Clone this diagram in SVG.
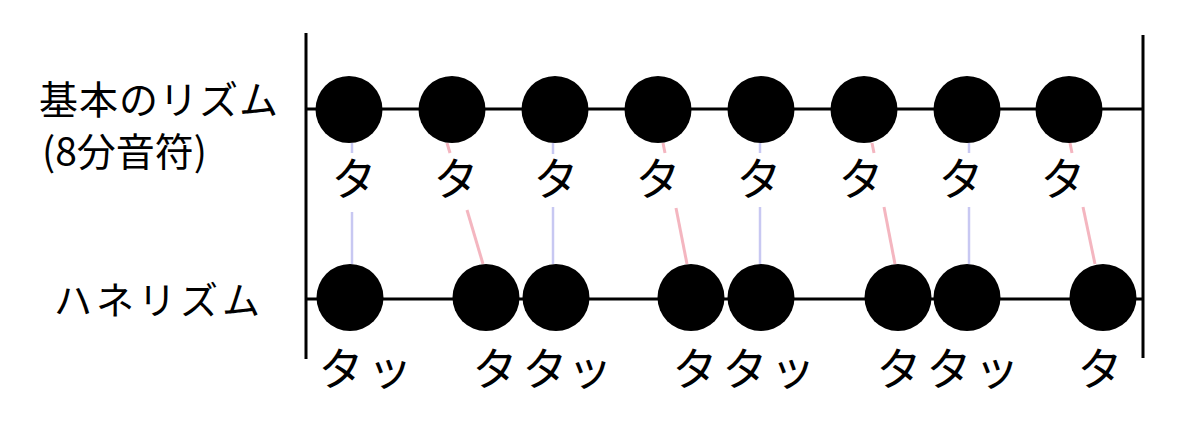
<svg xmlns="http://www.w3.org/2000/svg" width="1200" height="423" viewBox="0 0 1200 423">
<style>
.bar{stroke:#000;stroke-width:3;fill:none}
.staff{stroke:#000;stroke-width:3}
.note{fill:#000}
.blue{stroke:#c8c8f2;stroke-width:2.5}
.pink{stroke:#f4b6c0;stroke-width:3}
.lbl{font-family:"Noto Sans CJK JP","Noto Sans",sans-serif;font-size:39px;fill:#000}
.syl{font-family:"Noto Sans CJK JP","Noto Sans",sans-serif;font-size:45px;fill:#000;text-anchor:middle}
</style>
<rect width="1200" height="423" fill="#fff"/>
<g id="connectors">
<line class="blue" x1="352" y1="143" x2="352" y2="153"/>
<line class="blue" x1="352" y1="212" x2="352" y2="264"/>
<line class="blue" x1="553" y1="143" x2="553" y2="154"/>
<line class="blue" x1="553" y1="207" x2="553" y2="264"/>
<line class="blue" x1="760" y1="143" x2="760" y2="153"/>
<line class="blue" x1="760" y1="207" x2="760" y2="264"/>
<line class="blue" x1="969" y1="143" x2="969" y2="153"/>
<line class="blue" x1="969" y1="207" x2="969" y2="264"/>
<line class="pink" x1="447" y1="143" x2="450" y2="153"/>
<line class="pink" x1="467" y1="210" x2="483" y2="264"/>
<line class="pink" x1="663" y1="143" x2="665" y2="153"/>
<line class="pink" x1="676" y1="208" x2="687" y2="264"/>
<line class="pink" x1="872" y1="143" x2="874" y2="153"/>
<line class="pink" x1="884" y1="207" x2="895" y2="264"/>
<line class="pink" x1="1070" y1="143" x2="1072" y2="153"/>
<line class="pink" x1="1083" y1="207" x2="1095" y2="264"/>
</g>
<g id="staff">
<line class="bar" x1="306" y1="33" x2="306" y2="359"/>
<line class="bar" x1="1143" y1="35" x2="1143" y2="358"/>
<line class="staff" x1="306" y1="109" x2="1143" y2="109"/>
<line class="staff" x1="306" y1="299" x2="1143" y2="299"/>
</g>
<g id="labels">
<text class="lbl" x="39" y="114" style="letter-spacing:1px">基本のリズム</text>
<text class="lbl" x="42" y="166">(8分音符)</text>
<text class="lbl" x="54" y="314" style="font-size:38px;letter-spacing:4px">ハネリズム</text>
</g>
<g id="basic-rhythm">
<circle class="note" cx="349" cy="109.5" r="33.5"/>
<circle class="note" cx="452" cy="109.5" r="33.5"/>
<circle class="note" cx="555" cy="109.5" r="33.5"/>
<circle class="note" cx="658" cy="109.5" r="33.5"/>
<circle class="note" cx="761" cy="109.5" r="33.5"/>
<circle class="note" cx="864" cy="109.5" r="33.5"/>
<circle class="note" cx="967" cy="109.5" r="33.5"/>
<circle class="note" cx="1069" cy="109.5" r="33.5"/>
<text class="syl" x="354" y="196">タ</text>
<text class="syl" x="456" y="196">タ</text>
<text class="syl" x="556" y="196">タ</text>
<text class="syl" x="658" y="196">タ</text>
<text class="syl" x="759" y="196">タ</text>
<text class="syl" x="861" y="196">タ</text>
<text class="syl" x="961" y="196">タ</text>
<text class="syl" x="1063" y="196">タ</text>
</g>
<g id="swing-rhythm">
<circle class="note" cx="350" cy="297.5" r="33.5"/>
<circle class="note" cx="486" cy="297.5" r="33.5"/>
<circle class="note" cx="556" cy="297.5" r="33.5"/>
<circle class="note" cx="691" cy="297.5" r="33.5"/>
<circle class="note" cx="761" cy="297.5" r="33.5"/>
<circle class="note" cx="898" cy="297.5" r="33.5"/>
<circle class="note" cx="967" cy="297.5" r="33.5"/>
<circle class="note" cx="1103" cy="297.5" r="33.5"/>
<text class="syl" x="341" y="386">タ</text>
<text class="syl" x="390" y="386">ッ</text>
<text class="syl" x="495" y="386">タ</text>
<text class="syl" x="545" y="386">タ</text>
<text class="syl" x="590" y="386">ッ</text>
<text class="syl" x="695" y="386">タ</text>
<text class="syl" x="745" y="386">タ</text>
<text class="syl" x="793" y="386">ッ</text>
<text class="syl" x="899" y="386">タ</text>
<text class="syl" x="949" y="386">タ</text>
<text class="syl" x="997" y="386">ッ</text>
<text class="syl" x="1100" y="386">タ</text>
</g>
</svg>
